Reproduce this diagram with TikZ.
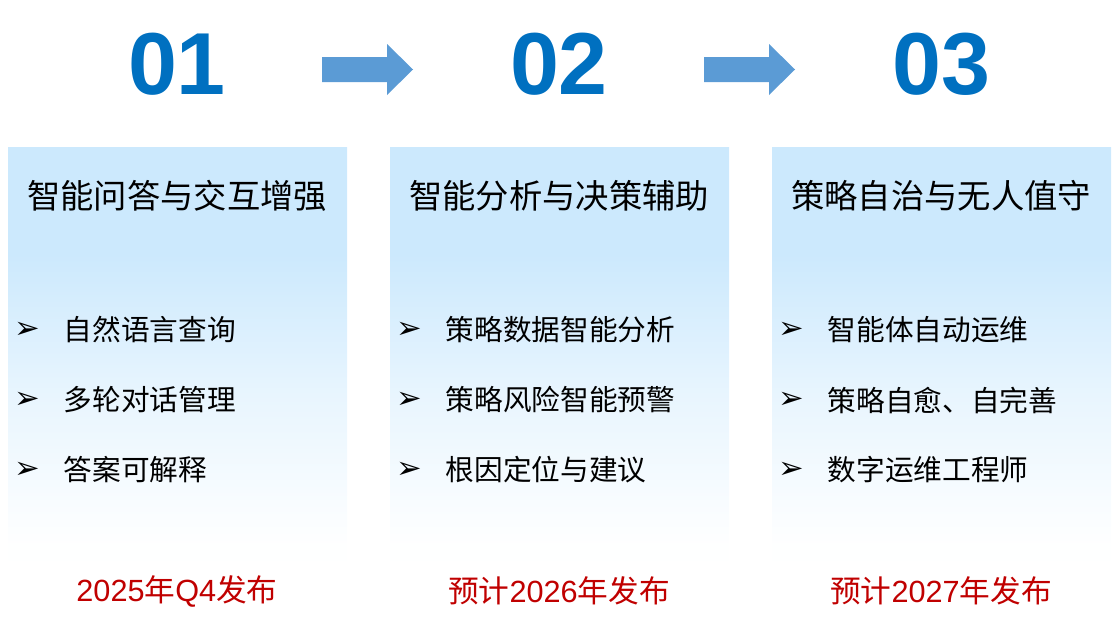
\documentclass[tikz,border=0pt]{standalone}
\usepackage{fontspec}
\setmainfont{Noto Sans CJK SC}
\newfontfamily\numfont{Liberation Sans}
\newfontfamily\symfont{DejaVu Sans}
\usetikzlibrary{positioning}
\definecolor{numblue}{HTML}{0070C0}
\definecolor{arrowblue}{HTML}{5B9BD5}
\definecolor{paneltop}{HTML}{CCE9FD}
\definecolor{datered}{HTML}{C00000}
\pgfdeclareverticalshading{panelfade}{100bp}{color(0bp)=(white); color(27bp)=(white!98!paneltop); color(45bp)=(white!55!paneltop); color(62bp)=(paneltop); color(100bp)=(paneltop)}
\tikzset{
  numtext/.style={text=numblue, font=\numfont\bfseries\fontsize{66}{70}\selectfont},
  titletext/.style={font=\fontsize{25}{28}\selectfont},
  itemtext/.style={anchor=west, font=\fontsize{21.5}{25}\selectfont},
  bulletmark/.style={font=\symfont\fontsize{23}{26}\selectfont},
  datetext/.style={text=datered, font=\fontsize{23}{26}\selectfont},
}

\begin{document}
\begin{tikzpicture}[x=0.75pt, y=-0.75pt]
  \useasboundingbox (0,0) rectangle (1116,628);

  % panels
  \shade[shading=panelfade] (8,147) rectangle (347,560);
  \shade[shading=panelfade] (390,147) rectangle (729,560);
  \shade[shading=panelfade] (772,147) rectangle (1111,560);

  % step numbers
  \node[numtext] (n1) at (177,64) {01};
  \node[numtext] (n2) at (559,64) {02};
  \node[numtext] (n3) at (941,64) {03};

  % block arrows between numbers
  \fill[arrowblue] (322,57) -- (387,57) -- (387,44) -- (413,69.5) -- (387,95) -- (387,82) -- (322,82) -- cycle;
  \fill[arrowblue] (704,57) -- (769,57) -- (769,44) -- (795,69.5) -- (769,95) -- (769,82) -- (704,82) -- cycle;

  % titles
  \node[titletext] (t1) at (177,196) {智能问答与交互增强};
  \node[titletext] (t2) at (559,196) {智能分析与决策辅助};
  \node[titletext] (t3) at (941,196) {策略自治与无人值守};

  % items, panel 1
  \node[bulletmark] (b11) at (27,330) {➢};
  \node[itemtext] (i11) at (59,330) {自然语言查询};
  \node[bulletmark] (b12) at (27,400) {➢};
  \node[itemtext] (i12) at (59,400) {多轮对话管理};
  \node[bulletmark] (b13) at (27,470) {➢};
  \node[itemtext] (i13) at (59,470) {答案可解释};

  % items, panel 2
  \node[bulletmark] (b21) at (409,330) {➢};
  \node[itemtext] (i21) at (441,330) {策略数据智能分析};
  \node[bulletmark] (b22) at (409,400) {➢};
  \node[itemtext] (i22) at (441,400) {策略风险智能预警};
  \node[bulletmark] (b23) at (409,470) {➢};
  \node[itemtext] (i23) at (441,470) {根因定位与建议};

  % items, panel 3
  \node[bulletmark] (b31) at (791,330) {➢};
  \node[itemtext] (i31) at (823,330) {智能体自动运维};
  \node[bulletmark] (b32) at (791,400) {➢};
  \node[itemtext] (i32) at (823,400) {策略自愈、自完善};
  \node[bulletmark] (b33) at (791,470) {➢};
  \node[itemtext] (i33) at (823,470) {数字运维工程师};

  % release dates
  \node[datetext] (d1) at (177,591) {{\numfont 2025}年{\numfont Q4}发布};
  \node[datetext] (d2) at (559,591) {预计{\numfont 2026}年发布};
  \node[datetext] (d3) at (941,591) {预计{\numfont 2027}年发布};
\end{tikzpicture}
\end{document}
